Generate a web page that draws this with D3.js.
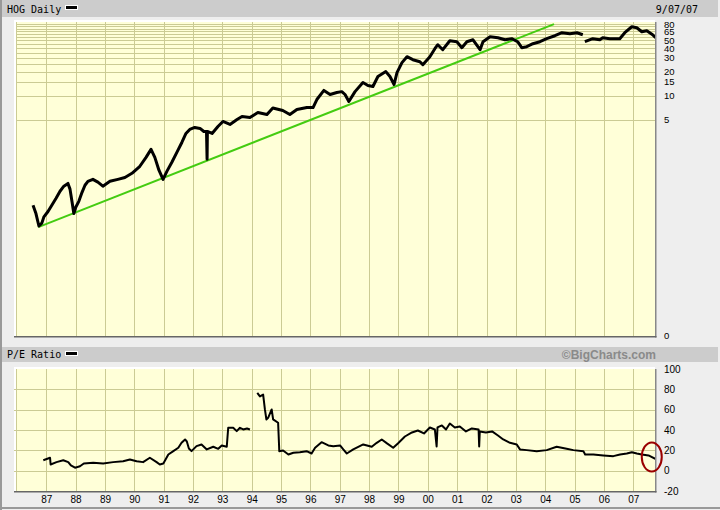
<!DOCTYPE html>
<html>
<head>
<meta charset="utf-8">
<title>HOG Daily</title>
<style>
body { margin: 0; background: #eeeeee; }
svg { display: block; }
text { font-family: "Liberation Sans", Arial, sans-serif; font-size: 10px; fill: #000; }
text.mono { font-family: "DejaVu Sans Mono", "Liberation Mono", monospace; font-size: 10px; }
.grid line { stroke: #cbcb94; stroke-width: 1px; shape-rendering: crispEdges; }
path.price { fill: none; stroke: #000; stroke-width: 3px; stroke-linejoin: round; }
path.pe { fill: none; stroke: #000; stroke-width: 2px; stroke-linejoin: round; }
path.trend { fill: none; stroke: #44cc11; stroke-width: 2px; }
</style>
</head>
<body>
<script src="https://d3js.org/d3.v7.min.js"></script>
<script>

// price, split adjusted (decimal years)
var priceYears = [1986.55,1986.65,1986.75,1986.85,1986.92,1987.06,1987.19,1987.33,1987.47,1987.60,
  1987.74,1987.81,1987.88,1987.94,1988.01,1988.11,1988.22,1988.32,1988.42,1988.59,
  1988.76,1988.93,1989.17,1989.44,1989.68,1989.92,1990.19,1990.40,1990.57,1990.70,
  1990.84,1990.98,1991.11,1991.28,1991.45,1991.62,1991.76,1991.89,1992.06,1992.24,
  1992.37,1992.46,1992.48,1992.49,1992.65,1992.85,1993.02,1993.26,1993.50,1993.67,
  1993.94,1994.21,1994.52,1994.72,1995.06,1995.30,1995.54,1995.88,1996.09,1996.22,
  1996.46,1996.67,1996.90,1997.07,1997.18,1997.31,1997.52,1997.79,1997.96,1998.13,
  1998.30,1998.57,1998.71,1998.85,1998.95,1999.12,1999.29,1999.49,1999.73,1999.83,
  2000.07,2000.24,2000.34,2000.51,2000.75,2000.99,2001.16,2001.33,2001.54,2001.78,
  2001.88,2002.12,2002.39,2002.63,2002.86,2003.06,2003.20,2003.37,2003.58,2003.82,
  2004.05,2004.33,2004.57,2004.84,2005.08,2005.28,2005.30,2005.35,2005.62,2005.86,
  2005.96,2006.20,2006.54,2006.71,2006.95,2007.12,2007.29,2007.46,2007.66,2007.76];

var priceValues = [0.42,0.33,0.23,0.25,0.30,0.35,0.42,0.51,0.63,0.73,
  0.79,0.67,0.46,0.33,0.40,0.47,0.61,0.75,0.84,0.89,
  0.82,0.73,0.84,0.89,0.94,1.06,1.30,1.68,2.12,1.68,
  1.16,0.89,1.12,1.46,1.94,2.59,3.36,3.78,4.00,3.89,
  3.56,3.56,1.59,3.56,3.36,4.12,4.76,4.37,5.04,5.50,
  5.34,6.17,5.82,7.03,6.54,5.82,6.73,7.13,7.13,8.99,
  11.7,10.4,11.0,11.3,10.4,8.48,11.3,14.7,13.5,13.1,
  17.5,20.2,17.5,13.9,19.6,26.2,31.1,28.5,26.9,24.7,
  31.1,39.2,44.0,38.1,49.4,48.0,40.4,48.0,50.8,38.1,
  48.0,55.5,53.8,50.8,52.4,48.0,40.4,41.6,45.3,48.0,
  52.4,57.1,62.3,60.5,62.3,58.8,null,48.0,52.4,50.8,
  53.8,52.4,52.4,62.3,74.1,71.9,64.1,66.0,58.8,53.9];

// P/E ratio
var peYears = [1986.90,1987.13,1987.15,1987.35,1987.58,1987.75,1987.84,1987.98,1988.15,1988.28,
  1988.60,1988.94,1989.28,1989.62,1989.85,1990.08,1990.30,1990.53,1990.76,1990.87,
  1990.99,1991.16,1991.33,1991.50,1991.61,1991.73,1991.79,1991.86,1991.95,1992.12,
  1992.29,1992.47,1992.69,1992.86,1992.98,1993.15,1993.20,1993.37,1993.49,1993.60,
  1993.71,1993.84,1993.94,1994.05,1994.19,1994.28,1994.39,1994.45,1994.50,1994.56,
  1994.68,1994.73,1994.90,1994.94,1995.07,1995.25,1995.42,1995.64,1995.87,1996.04,
  1996.16,1996.38,1996.61,1996.78,1997.01,1997.12,1997.24,1997.46,1997.80,1998.09,
  1998.26,1998.43,1998.61,1998.82,1998.98,1999.22,1999.46,1999.66,1999.87,2000.07,
  2000.24,2000.30,2000.33,2000.48,2000.62,2000.75,2000.92,2001.09,2001.30,2001.50,
  2001.73,2001.75,2001.77,2001.98,2002.19,2002.39,2002.57,2002.80,2003.03,2003.14,
  2003.37,2003.71,2004.05,2004.39,2004.73,2004.96,2005.30,2005.36,2005.64,2005.98,
  2006.32,2006.55,2006.78,2006.95,2007.12,2007.29,2007.52,2007.75];

var peValues = [10.3,12.7,6.1,8.4,10.3,8.4,5.1,2.9,4.4,7.1,
  7.8,7.1,8.4,9.3,11.0,9.3,8.4,12.7,8.4,6.1,
  7.1,15.9,19.2,22.5,27.4,30.7,28.7,21.8,19.2,24.1,
  25.8,20.9,23.5,21.5,24.8,23.5,42.2,42.2,38.9,42.2,
  40.5,41.5,40.5,null,76.6,73.0,74.9,60.2,50.4,52.0,
  60.2,50.4,47.1,19.2,19.9,15.9,17.6,18.2,19.2,16.9,
  22.5,28.0,24.8,24.1,24.8,20.9,16.9,20.9,25.8,23.5,
  27.4,30.7,26.8,22.5,26.8,33.6,37.6,39.5,36.6,42.5,
  40.5,23.8,42.5,44.5,40.5,46.4,42.5,43.5,38.6,41.5,
  40.5,23.8,38.6,37.6,38.6,34.6,30.7,27.4,25.8,20.9,
  20.2,19.2,20.2,23.5,21.5,20.2,19.2,15.9,15.9,15.0,
  14.3,15.9,16.9,18.2,16.9,15.9,15.0,11.7];

// green trend line, [year, price]
var trendStart = [1986.73, 0.223];
var trendEnd = [2004.30, 80.0];

// red circle round the latest P/E
var markYear = 2007.63, markPe = 13.5;

var yearTicks = [1987,1988,1989,1990,1991,1992,1993,1994,1995,1996,1997,
  1998,1999,2000,2001,2002,2003,2004,2005,2006,2007];
var yearLabels = ["87","88","89","90","91","92","93","94","95","96","97",
  "98","99","00","01","02","03","04","05","06","07"];
var priceGrid = [5,10,15,20,25,30,35,40,45,50,55,60,65,70,75,80];
var priceTicks = [80,65,50,40,30,20,15,10,5];
var peGrid = [0,20,40,60,80];
var peTicks = [100,80,60,40,20,0,-20];

var width = 720, height = 510;
var left = 16, right = 655;
var top1 = 22, bottom1 = 336;
var top2 = 369, bottom2 = 491;

var x = d3.scaleLinear().domain([1985.97, 2007.74]).range([left, right]);
var yPrice = d3.scaleLog().domain([0.0095, 85]).range([bottom1, top1]);
var yPe = d3.scaleLinear().domain([-20, 100]).range([bottom2, top2]);

var svg = d3.select("body").append("svg")
    .attr("width", width)
    .attr("height", height);

svg.append("rect").attr("width", width).attr("height", height).attr("fill", "#eeeeee");

// title bands
svg.append("rect").attr("x", 2).attr("y", 0).attr("width", 716).attr("height", 17).attr("fill", "#cccccc");
svg.append("rect").attr("x", 2).attr("y", 347).attr("width", 716).attr("height", 15).attr("fill", "#cccccc");

// outer frame, left and bottom
svg.append("rect").attr("x", 0).attr("y", 0).attr("width", 2).attr("height", height).attr("fill", "#999");
svg.append("rect").attr("x", 0).attr("y", 507).attr("width", width).attr("height", 2).attr("fill", "#999");

svg.append("text").attr("class", "mono").attr("x", 7).attr("y", 12.5).text("HOG Daily");
svg.append("rect").attr("x", 65.5).attr("y", 5.5).attr("width", 12).attr("height", 4)
    .attr("fill", "#000").attr("stroke", "#fff").attr("stroke-width", 1);
svg.append("text").attr("class", "mono").attr("x", 698).attr("y", 12.5)
    .attr("text-anchor", "end").text("9/07/07");

svg.append("text").attr("class", "mono").attr("x", 7).attr("y", 358).text("P/E Ratio");
svg.append("rect").attr("x", 65.5).attr("y", 351.5).attr("width", 12).attr("height", 4)
    .attr("fill", "#000").attr("stroke", "#fff").attr("stroke-width", 1);
svg.append("text").attr("x", 656).attr("y", 359).attr("text-anchor", "end")
    .style("font-weight", "bold").style("font-size", "12px").style("fill", "#8a8a8a")
    .text("\u00a9BigCharts.com");

// plot boxes with a white edge top-left and a dark edge bottom-right
function box(t, b) {
  svg.append("rect").attr("x", left - 2).attr("y", t - 2)
      .attr("width", right - left + 2).attr("height", b - t + 2).attr("fill", "#fff");
  svg.append("rect").attr("x", left).attr("y", t)
      .attr("width", right - left).attr("height", b - t).attr("fill", "#ffffd8");
  svg.append("rect").attr("x", right).attr("y", t)
      .attr("width", 1.5).attr("height", b - t + 1.5).attr("fill", "#888");
  svg.append("rect").attr("x", left - 2).attr("y", b)
      .attr("width", right - left + 3.5).attr("height", 1.5).attr("fill", "#666");
}
box(top1, bottom1);
box(top2, bottom2);

function crisp(v) { return Math.round(v) + 0.5; }

var grid1 = svg.append("g").attr("class", "grid");
grid1.selectAll("line.v").data(yearTicks).enter().append("line")
    .attr("class", "v")
    .attr("x1", function(d) { return crisp(x(d)); })
    .attr("x2", function(d) { return crisp(x(d)); })
    .attr("y1", top1).attr("y2", bottom1);
grid1.selectAll("line.h").data(priceGrid).enter().append("line")
    .attr("class", "h")
    .attr("x1", left).attr("x2", right)
    .attr("y1", function(d) { return crisp(yPrice(d)); })
    .attr("y2", function(d) { return crisp(yPrice(d)); });
grid1.append("line").attr("x1", left + 0.5).attr("x2", left + 0.5).attr("y1", top1).attr("y2", bottom1);

var grid2 = svg.append("g").attr("class", "grid");
grid2.selectAll("line.v").data(yearTicks).enter().append("line")
    .attr("class", "v")
    .attr("x1", function(d) { return crisp(x(d)); })
    .attr("x2", function(d) { return crisp(x(d)); })
    .attr("y1", top2).attr("y2", bottom2);
grid2.selectAll("line.h").data(peGrid).enter().append("line")
    .attr("class", "h")
    .attr("x1", left - 2).attr("x2", right)
    .attr("y1", function(d) { return crisp(yPe(d)); })
    .attr("y2", function(d) { return crisp(yPe(d)); });
grid2.append("line").attr("x1", left + 0.5).attr("x2", left + 0.5).attr("y1", top2).attr("y2", bottom2);

svg.append("clipPath").attr("id", "clip1").append("rect")
    .attr("x", left).attr("y", top1).attr("width", right - left).attr("height", bottom1 - top1);
svg.append("clipPath").attr("id", "clip2").append("rect")
    .attr("x", left).attr("y", top2).attr("width", right - left).attr("height", bottom2 - top2);

// trend line
svg.append("path").attr("class", "trend")
    .attr("clip-path", "url(#clip1)")
    .attr("d", d3.line()([[x(trendStart[0]), yPrice(trendStart[1])], [x(trendEnd[0]), yPrice(trendEnd[1])]]));

// price line
var priceLine = d3.line()
    .defined(function(d, i) { return priceValues[i] != null; })
    .x(function(d, i) { return x(priceYears[i]); })
    .y(function(d, i) { return yPrice(priceValues[i] || 1); });
svg.append("path").attr("class", "price")
    .attr("clip-path", "url(#clip1)")
    .attr("d", priceLine(priceYears));

// p/e line
var peLine = d3.line()
    .defined(function(d, i) { return peValues[i] != null; })
    .x(function(d, i) { return x(peYears[i]); })
    .y(function(d, i) { return yPe(peValues[i] || 0); });
svg.append("path").attr("class", "pe")
    .attr("clip-path", "url(#clip2)")
    .attr("d", peLine(peYears));

svg.append("ellipse")
    .attr("cx", x(markYear)).attr("cy", yPe(markPe))
    .attr("rx", 10).attr("ry", 14.5)
    .attr("fill", "none").attr("stroke", "#9a0000").attr("stroke-width", 2);

// axes
var ax1 = svg.append("g").attr("transform", "translate(" + right + ",0)")
    .call(d3.axisRight(yPrice).tickValues(priceTicks)
      .tickFormat(function(d) { return String(d); }).tickSize(0).tickPadding(9));
ax1.append("text").attr("x", 9).attr("y", bottom1).attr("dy", "0.32em").text("0");

var ax2 = svg.append("g").attr("transform", "translate(" + right + ",0)")
    .call(d3.axisRight(yPe).tickValues(peTicks)
      .tickFormat(function(d) { return String(d); }).tickSize(0).tickPadding(9));

var ax3 = svg.append("g").attr("transform", "translate(0," + bottom2 + ")")
    .call(d3.axisBottom(x).tickValues(yearTicks)
      .tickFormat(function(d, i) { return yearLabels[i]; }).tickSize(0).tickPadding(5));

[ax1, ax2, ax3].forEach(function(a) {
  a.select(".domain").remove();
  a.attr("font-family", null).attr("font-size", null);
  a.selectAll("text").attr("fill", "#000")
      .style("font-family", "'Liberation Sans', Arial, sans-serif").style("font-size", "10px");
});
// the top price labels sit tight together, as in the original; a touch smaller
ax1.selectAll("text").style("font-size", "9.5px");

</script>
</body>
</html>
